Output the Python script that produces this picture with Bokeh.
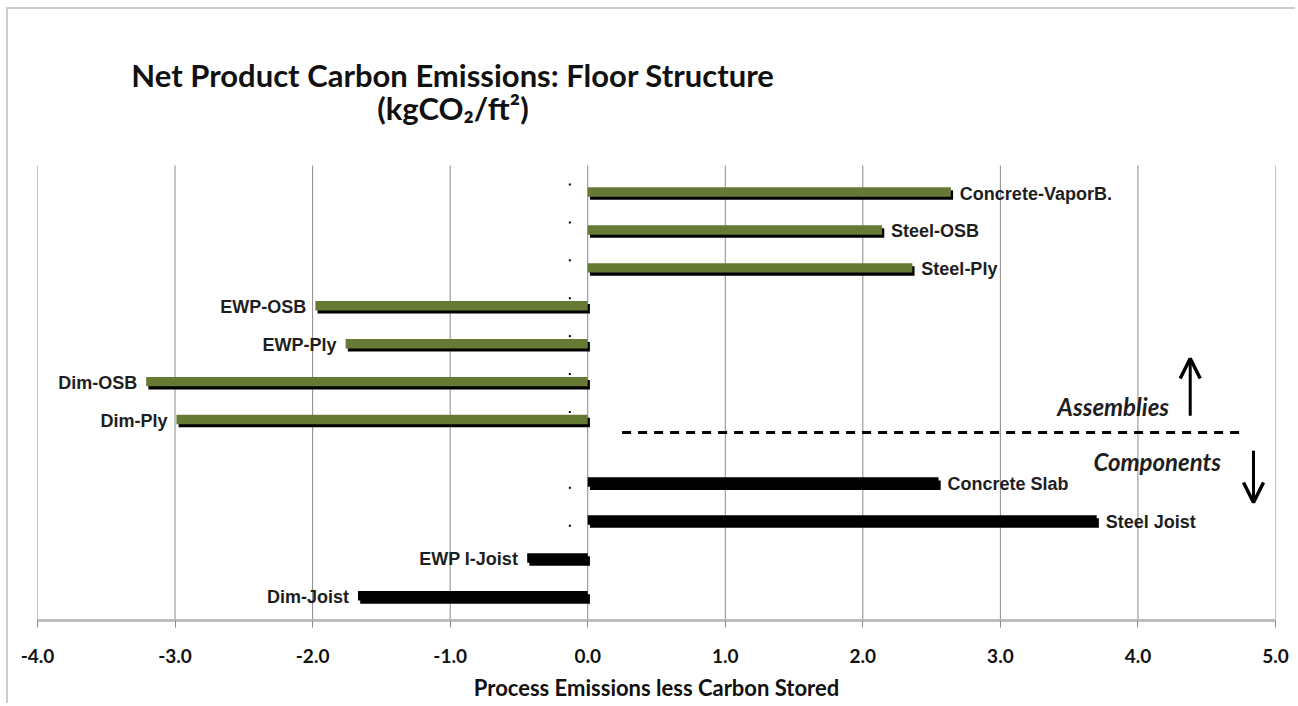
import numpy as np
from bokeh.plotting import figure
from bokeh.models import Range1d, FixedTicker, NumeralTickFormatter, Label, Arrow, OpenHead
from bokeh.core.properties import value
from bokeh.embed import file_html
from bokeh.resources import INLINE

# ---- data ----
assemblies = ["Concrete-VaporB.", "Steel-OSB", "Steel-Ply", "EWP-OSB", "EWP-Ply", "Dim-OSB", "Dim-Ply"]
assembly_values = [2.64, 2.14, 2.36, -1.98, -1.76, -3.21, -2.99]
components = ["Concrete Slab", "Steel Joist", "EWP I-Joist", "Dim-Joist"]
component_values = [2.55, 3.70, -0.44, -1.67]
x_ticks = [-4, -3, -2, -1, 0, 1, 2, 3, 4, 5]

GREEN = "#677a35"
LABEL_FONT = value("Liberation Sans")

# slot positions (top to bottom), one empty slot between the two groups
a_slot = np.arange(len(assemblies), dtype=float)
c_slot = np.arange(len(components), dtype=float) + len(assemblies) + 1
n_slots = len(assemblies) + 1 + len(components)

W, H = 1289, 696
PLOT_TOP = 156          # px from canvas top where the bar area begins
BOTTOM = 85             # axis panel height
slot_px = (H - BOTTOM - PLOT_TOP) / n_slots
y_top = -0.5 - PLOT_TOP / slot_px

p = figure(width=W, height=H, output_backend="svg", toolbar_location=None,
           x_range=Range1d(-4, 5), y_range=Range1d(n_slots - 0.5, y_top),
           min_border_left=29, min_border_right=22, min_border_top=0, min_border_bottom=BOTTOM)
p.styles = {"border-top": "2px solid #cdcdcd", "border-left": "2px solid #cdcdcd",
            "margin-left": "6px", "margin-top": "7px"}
p.outline_line_color = None
p.background_fill_color = "white"
p.yaxis.visible = False
p.grid.grid_line_color = None
p.xaxis.ticker = FixedTicker(ticks=x_ticks)
p.xaxis.formatter = NumeralTickFormatter(format="0.0")
p.xaxis.axis_line_color = "#bdbdbd"
p.xaxis.axis_line_width = 3
p.xaxis.major_tick_line_color = "#8a8a8a"
p.xaxis.major_tick_out = 7
p.xaxis.major_tick_in = 0
p.xaxis.minor_tick_line_color = None
p.xaxis.major_label_text_font = "Lato"
p.xaxis.major_label_text_font_style = "bold"
p.xaxis.major_label_text_font_size = "19px"
p.xaxis.major_label_text_color = "#111111"
p.xaxis.major_label_standoff = 21
p.xaxis.axis_label = "Process Emissions less Carbon Stored"
p.xaxis.axis_label_text_font = "Lato"
p.xaxis.axis_label_text_font_style = "bold"
p.xaxis.axis_label_text_font_size = "22px"
p.xaxis.axis_label_text_color = "#111111"
p.xaxis.axis_label_standoff = 8

# vertical gridlines over the bar area only
p.segment(x0=x_ticks, x1=x_ticks, y0=[-0.5] * len(x_ticks), y1=[n_slots - 0.5] * len(x_ticks),
          line_color="#8a8a8a", line_width=1)

BAR_H = 0.25
SHADOW = 0.08
dx = 0.016

# ---- assembly bars (green with dark shadow) ----
a_vals = np.array(assembly_values)
a_left = np.minimum(0, a_vals)
a_right = np.maximum(0, a_vals)
p.hbar(y=a_slot + 0.20 + SHADOW, left=a_left + dx, right=a_right + dx, height=BAR_H,
       fill_color="black", line_color=None)
p.hbar(y=a_slot + 0.20, left=a_left, right=a_right, height=BAR_H,
       fill_color=GREEN, line_color=None)

# ---- component bars (black) ----
c_vals = np.array(component_values)
c_left = np.minimum(0, c_vals)
c_right = np.maximum(0, c_vals)
p.hbar(y=c_slot - 0.15 + SHADOW, left=c_left + dx, right=c_right + dx, height=BAR_H,
       fill_color="black", line_color=None)
p.hbar(y=c_slot - 0.15, left=c_left, right=c_right, height=BAR_H,
       fill_color="black", line_color=None)

# tiny markers of the hidden zero series
all_slots = np.concatenate([a_slot, c_slot])
p.scatter(x=[-0.13] * len(all_slots), y=all_slots, marker="square", size=2,
          fill_color="black", line_color=None)

# ---- data labels ----
names = assemblies + components
vals = list(assembly_values) + list(component_values)
ys = list(a_slot + 0.24) + list(c_slot - 0.11)
pos = [(n, v, y) for n, v, y in zip(names, vals, ys) if v >= 0]
neg = [(n, v, y) for n, v, y in zip(names, vals, ys) if v < 0]
p.text(x=[v for _, v, _ in pos], y=[y for _, _, y in pos], text=[n for n, _, _ in pos],
       x_offset=9, text_align="left", text_baseline="middle", text_font=LABEL_FONT,
       text_font_style="bold", text_font_size="18px", text_color="#1e1e1e")
p.text(x=[v for _, v, _ in neg], y=[y for _, _, y in neg], text=[n for n, _, _ in neg],
       x_offset=-9, text_align="right", text_baseline="middle", text_font=LABEL_FONT,
       text_font_style="bold", text_font_size="18px", text_color="#1e1e1e")

# ---- title ----
p.add_layout(Label(x=-0.98, y=-2.88, text="Net Product Carbon Emissions: Floor Structure",
                   text_align="center", text_baseline="middle", text_font="Lato",
                   text_font_style="bold", text_font_size="31px", text_color="#111111"))
p.add_layout(Label(x=-0.98, y=-2.02, text="(kgCO\u2082/ft\u00b2)",
                   text_align="center", text_baseline="middle", text_font="Lato",
                   text_font_style="bold", text_font_size="31px", text_color="#111111"))

# ---- group separator & annotations ----
p.line(x=[0.25, 4.78], y=[6.54, 6.54], line_color="black", line_width=3, line_dash="9 7")
p.add_layout(Arrow(x_start=4.38, y_start=6.10, x_end=4.38, y_end=4.59,
                   line_color="black", line_width=3,
                   end=OpenHead(size=20, line_width=3.5, line_color="black")))
p.add_layout(Arrow(x_start=4.84, y_start=7.02, x_end=4.84, y_end=8.39,
                   line_color="black", line_width=3,
                   end=OpenHead(size=20, line_width=3.5, line_color="black")))
p.add_layout(Label(x=3.82, y=5.86, text="Assemblies", text_align="center",
                   text_baseline="middle", text_font="Lato", text_font_style="bold italic",
                   text_font_size="24px", text_color="#1e1e1e"))
p.add_layout(Label(x=4.14, y=7.31, text="Components", text_align="center",
                   text_baseline="middle", text_font="Lato", text_font_style="bold italic",
                   text_font_size="24px", text_color="#1e1e1e"))

open("out.html", "w").write(file_html(p, INLINE))
